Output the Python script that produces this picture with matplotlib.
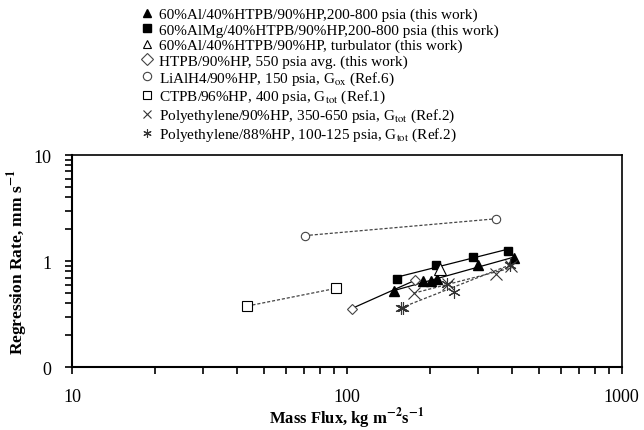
import numpy as np
import matplotlib
matplotlib.use('Agg')
import matplotlib.pyplot as plt
from matplotlib import ticker

plt.rcParams['font.family'] = 'Liberation Serif'
plt.rcParams['mathtext.fontset'] = 'stix'

# Data (mass flux kg/m2s, regression rate mm/s)
al_x = [148, 190, 203, 212, 299, 406]
al_y = [0.52, 0.65, 0.645, 0.68, 0.92, 1.06]

almg_x = [152, 211, 287, 386]
almg_y = [0.68, 0.92, 1.09, 1.26]

turb_x = [219]
turb_y = [0.85]

htpb_x = [104, 177]
htpb_y = [0.357, 0.66]

lialh4_x = [70.3, 350]
lialh4_y = [1.74, 2.51]

ctpb_x = [43.5, 91.2]
ctpb_y = [0.378, 0.554]

pe90_x = [175, 234, 350, 397]
pe90_y = [0.505, 0.604, 0.749, 0.909]

pe88_x = [157, 160, 232, 246, 392]
pe88_y = [0.365, 0.365, 0.604, 0.511, 0.929]

labels = [
    '60%Al/40%HTPB/90%HP,200-800 psia (this work)',
    '60%AlMg/40%HTPB/90%HP,200-800 psia (this work)',
    '60%Al/40%HTPB/90%HP, turbulator (this work)',
    'HTPB/90%HP, 550 psia avg. (this work)',
    r'LiAlH4/90%HP, 150 psia, G$_{\mathrm{ox}}$ (Ref.6)',
    r'CTPB/96%HP, 400 psia, G$_{\mathrm{tot}}$ (Ref.1)',
    r'Polyethylene/90%HP, 350-650 psia, G$_{\mathrm{tot}}$ (Ref.2)',
    r'Polyethylene/88%HP, 100-125 psia, G$_{\mathrm{tot}}$ (Ref.2)',
]

asterisk = (6, 2, 0)
series = [
    (al_x, al_y, dict(marker='^', mfc='black', mec='black', ms=7), '-'),
    (almg_x, almg_y, dict(marker='s', mfc='black', mec='black', ms=6), '-'),
    (turb_x, turb_y, dict(marker='^', mfc='white', mec='black', ms=9, mew=0.8), None),
    (htpb_x, htpb_y, dict(marker='D', mfc='white', mec='#444444', ms=5, mew=0.8), '-'),
    (lialh4_x, lialh4_y, dict(marker='o', mfc='white', mec='#444444', ms=6, mew=0.8), '--'),
    (ctpb_x, ctpb_y, dict(marker='s', mfc='white', mec='black', ms=7, mew=0.8), '--'),
    (pe90_x, pe90_y, dict(marker='x', color='#333333', ms=8, mew=0.8), '--'),
    (pe88_x, pe88_y, dict(marker=asterisk, color='#333333', ms=9, mew=0.8), '--'),
]

fig = plt.figure(figsize=(6.44, 4.31), dpi=100)
ax = fig.add_axes([0.1118, 0.1455, 0.8536, 0.4925])

handles = []
for (xs, ys, mk, ls), lab in zip(series, labels):
    # power-law trend line, like the spreadsheet trendlines
    if ls is not None:
        lx, ly = np.log10(xs), np.log10(ys)
        k, b = np.polyfit(lx, ly, 1)
        fx = np.array([min(xs), max(xs)])
        fy = 10 ** (k * np.log10(fx) + b)
        if ls == '-':
            ax.plot(fx, fy, '-', color='black', lw=0.9, zorder=2)
        else:
            ax.plot(fx, fy, linestyle=(0, (2.5, 1.5)), color='#444444', lw=0.9, zorder=2)
    h, = ax.plot(xs, ys, linestyle='none', label=lab, zorder=3, **mk)
    handles.append(h)

ax.set_xscale('log')
ax.set_yscale('log')
ax.set_xlim(10, 1000)
ax.set_ylim(0.1, 10)

fmt = ticker.FuncFormatter(lambda v, p: f'{v:.0f}')
ax.xaxis.set_major_formatter(fmt)
ax.yaxis.set_major_formatter(fmt)
ax.xaxis.set_minor_formatter(ticker.NullFormatter())
ax.yaxis.set_minor_formatter(ticker.NullFormatter())
ax.tick_params(which='both', direction='out', length=5, width=1.2, labelsize=13)
ax.tick_params(axis='x', which='both', pad=10)
ax.tick_params(axis='y', which='both', pad=10)
for s in ['left', 'bottom']:
    ax.spines[s].set_linewidth(1.5)
for s in ['top', 'right']:
    ax.spines[s].set_linewidth(1.2)

ax.set_xlabel(r'Mass Flux, kg m$^{\mathbf{-2}}$s$^{\mathbf{-1}}$', fontsize=12, fontweight='bold')
ax.set_ylabel(r'Regression Rate, mm s$^{\mathbf{-1}}$', fontsize=12.5, fontweight='bold', labelpad=2)
ax.xaxis.set_label_coords(0.5, -0.178)

leg = fig.legend(handles=handles, loc='upper left', bbox_to_anchor=(0.219, 0.98),
                 frameon=False, fontsize=11, handlelength=0.8, handletextpad=0.4,
                 labelspacing=0.1, borderpad=0, borderaxespad=0)
for h in leg.legend_handles:
    h.set_markersize(6)

fig.savefig('out.png', dpi=100)
